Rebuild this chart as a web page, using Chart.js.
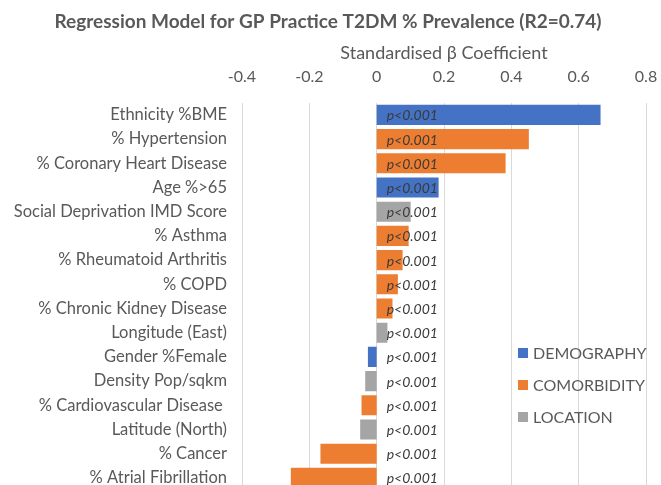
<!DOCTYPE html>
<html>
<head>
<meta charset="utf-8">
<script src="https://cdn.jsdelivr.net/npm/chart.js@4/dist/chart.umd.min.js"></script>
<style>
  html, body { margin: 0; padding: 0; background: #fff; overflow: hidden; }
  canvas { display: block; }
</style>
</head>
<body>
<canvas id="myChart" width="661" height="490"></canvas>
<script>
const FONT = 'Lato, "Noto Sans", sans-serif';
const TEXT = '#595959';

const categories = [
  'Ethnicity %BME',
  '% Hypertension',
  '% Coronary Heart Disease',
  'Age %>65',
  'Social Deprivation IMD Score',
  '% Asthma',
  '% Rheumatoid Arthritis',
  '% COPD',
  '% Chronic Kidney Disease',
  'Longitude (East)',
  'Gender %Female',
  'Density Pop/sqkm',
  '% Cardiovascular Disease ',
  'Latitude (North)',
  '% Cancer',
  '% Atrial Fibrillation'
];

const betas = [0.665, 0.452, 0.383, 0.184, 0.101, 0.095, 0.077, 0.063, 0.047, 0.032,
  -0.026, -0.034, -0.045, -0.049, -0.167, -0.255];

const groups = ['DEMOGRAPHY', 'COMORBIDITY', 'COMORBIDITY', 'DEMOGRAPHY', 'LOCATION',
  'COMORBIDITY', 'COMORBIDITY', 'COMORBIDITY', 'COMORBIDITY', 'LOCATION',
  'DEMOGRAPHY', 'LOCATION', 'COMORBIDITY', 'LOCATION', 'COMORBIDITY', 'COMORBIDITY'];

const pValues = ['p<0.001', 'p<0.001', 'p<0.001', 'p<0.001', 'p<0.001', 'p<0.001',
  'p<0.001', 'p<0.001', 'p<0.001', 'p<0.001', 'p<0.001', 'p<0.001', 'p<0.001',
  'p<0.001', 'p<0.001', 'p<0.001'];

const groupNames = ['DEMOGRAPHY', 'COMORBIDITY', 'LOCATION'];
const groupColors = ['#4472C4', '#ED7D31', '#A5A5A5'];

const datasets = groupNames.map((g, k) => ({
  label: g,
  backgroundColor: groupColors[k],
  borderColor: '#ffffff',
  borderWidth: 0,
  data: betas.map((v, i) => groups[i] === g ? v : null)
}));

/* p-value text over each bar */
const pLabels = {
  id: 'pLabels',
  afterDatasetsDraw(chart) {
    const ctx = chart.ctx;
    const x = chart.scales.x.getPixelForValue(0) + 10;
    ctx.save();
    ctx.font = 'italic 14px ' + FONT;
    ctx.fillStyle = '#3a3a3a';
    ctx.textAlign = 'left';
    ctx.textBaseline = 'middle';
    pValues.forEach((t, i) => {
      ctx.fillText(t, x, chart.scales.y.getPixelForValue(i) + 1);
    });
    ctx.restore();
  }
};

/* legend drawn inside the plot, lower right */
const innerLegend = {
  id: 'innerLegend',
  afterDraw(chart) {
    const ctx = chart.ctx;
    ctx.save();
    ctx.font = '16px ' + FONT;
    ctx.textBaseline = 'middle';
    ctx.textAlign = 'left';
    chart.data.datasets.forEach((ds, k) => {
      const y = 353 + k * 32;
      ctx.fillStyle = ds.backgroundColor;
      ctx.fillRect(518, y - 5, 10, 10);
      ctx.fillStyle = TEXT;
      ctx.fillText(ds.label, 533, y + 1);
    });
    ctx.restore();
  }
};

const config = {
  type: 'bar',
  data: { labels: categories, datasets: datasets },
  options: {
    indexAxis: 'y',
    responsive: false,
    animation: false,
    grouped: false,
    barPercentage: 0.83,
    categoryPercentage: 1,
    layout: { padding: { left: 10, right: 15, top: 4, bottom: 0 } },
    scales: {
      x: {
        position: 'top',
        min: -0.4,
        max: 0.8,
        ticks: {
          stepSize: 0.2,
          color: TEXT,
          font: { family: FONT, size: 16 },
          padding: 16,
          callback: (v) => Math.round(v * 10) / 10
        },
        grid: { color: '#d9d9d9', drawTicks: false },
        border: { display: false },
        title: {
          display: true,
          text: 'Standardised β Coefficient',
          color: TEXT,
          font: { family: FONT, size: 18 },
          padding: { top: 0, bottom: 2 }
        },
        afterFit(scale) {
          scale.height = 60;
          scale.paddingLeft = 0;
          scale.paddingRight = 0;
        }
      },
      y: {
        ticks: {
          color: TEXT,
          font: { family: FONT, size: 16.5 },
          padding: 7,
          autoSkip: false
        },
        grid: { display: false },
        border: { display: false },
        afterFit(scale) {
          scale.width = 232;
          scale.paddingTop = 0;
          scale.paddingBottom = 0;
        }
      }
    },
    plugins: {
      legend: { display: false },
      tooltip: { enabled: false },
      title: {
        display: true,
        text: 'Regression Model for GP Practice T2DM % Prevalence (R2=0.74)',
        color: TEXT,
        font: { family: FONT, size: 19, weight: 'bold' },
        padding: { top: 6, bottom: 10 }
      }
    }
  },
  plugins: [pLabels, innerLegend]
};

const myChart = new Chart(document.getElementById('myChart'), config);
</script>
</body>
</html>
